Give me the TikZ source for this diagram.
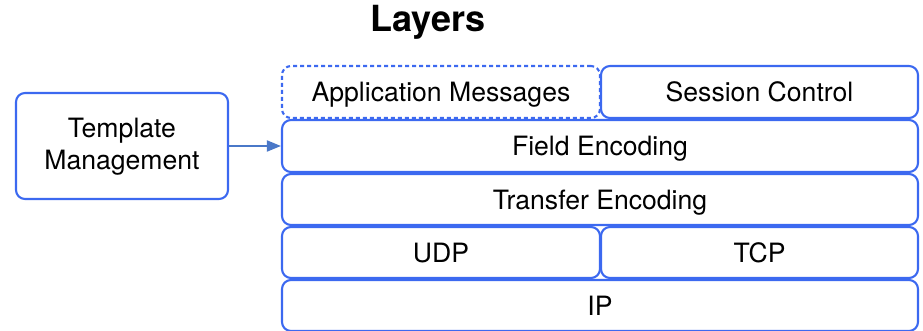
\documentclass[tikz,border=0pt]{standalone}
\usepackage{fontspec}
\setmainfont{TeX Gyre Heros}
\usetikzlibrary{arrows.meta}
\definecolor{layerblue}{RGB}{60,105,240}
\definecolor{arrowblue}{RGB}{74,120,200}
\tikzset{
  layer/.style={draw=layerblue, line width=2.1pt, rounded corners=9pt, inner sep=0pt},
  txt/.style={font=\fontsize{26.6}{32}\selectfont, inner sep=0pt},
  lbl/.style={txt, text height=19pt, text depth=5.5pt, yshift=-3pt},
  conn/.style={draw=arrowblue, line width=1.8pt, -{Triangle[length=14pt,width=11pt]}}
}
\begin{document}
\begin{tikzpicture}[x=1pt,y=-1pt]
\useasboundingbox (0,0) rectangle (923,331);
\node[font=\bfseries\fontsize{36}{40}\selectfont] (title) at (428,22) {Layers};
% box from (x1,y1) to (x2,y2), named #6
\newcommand\layerbox[6][]{%
  \node[layer,#1, minimum width={#4-#2}, minimum height={#5-#3}] (#6) at ({(#2+#4)/2},{(#3+#5)/2}) {};}
\layerbox[dashed, dash pattern=on 4pt off 3pt]{282}{66}{600}{118}{app}
\layerbox{601}{66}{918}{118}{sess}
\layerbox{282}{120}{918}{172}{field}
\layerbox{282}{174}{918}{225}{transfer}
\layerbox{282}{227}{600}{278}{udp}
\layerbox{601}{227}{918}{278}{tcp}
\layerbox{282}{280}{918}{331}{ip}
\layerbox{16}{93}{228}{199}{tmpl}
\node[lbl] (appT) at (app.center) {Application Messages};
\node[lbl] (sessT) at (sess.center) {Session Control};
\node[lbl] (fieldT) at (field.center) {Field Encoding};
\node[lbl] (transferT) at (transfer.center) {Transfer Encoding};
\node[lbl] (udpT) at (udp.center) {UDP};
\node[lbl] (tcpT) at (tcp.center) {TCP};
\node[lbl] (ipT) at (ip.center) {IP};
\node[txt, align=center] (tmplT) at ([yshift=-1pt]tmpl.center) {Template\\Management};
\draw[conn] (tmpl.east) -- (tmpl.east -| field.west);
\end{tikzpicture}
\end{document}
